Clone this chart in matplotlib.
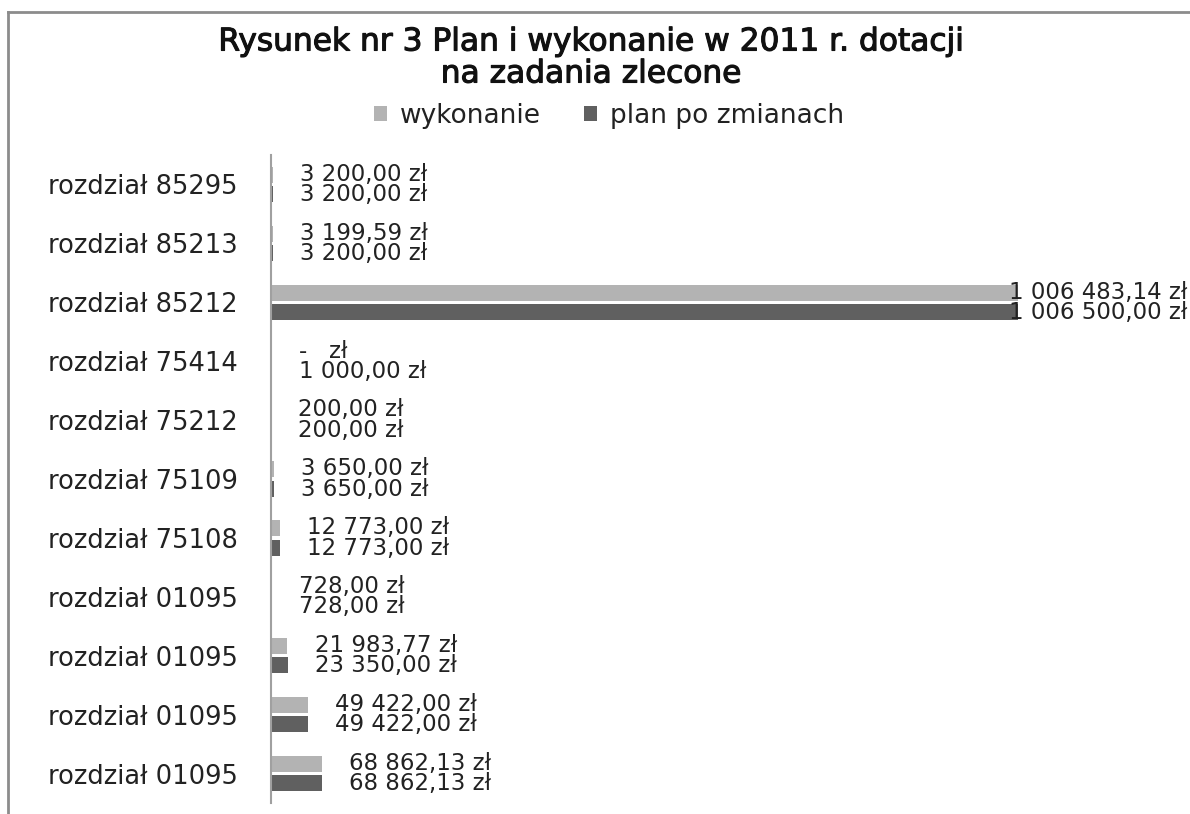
import numpy as np
import matplotlib.pyplot as plt
from matplotlib.lines import Line2D
import matplotlib.patheffects as pe

# dane z rysunku (od góry do dołu)
categories = ['rozdział 85295', 'rozdział 85213', 'rozdział 85212', 'rozdział 75414',
              'rozdział 75212', 'rozdział 75109', 'rozdział 75108', 'rozdział 01095',
              'rozdział 01095', 'rozdział 01095', 'rozdział 01095']
wykonanie = [3200.00, 3199.59, 1006483.14, 0.0, 200.00, 3650.00, 12773.00, 728.00,
             21983.77, 49422.00, 68862.13]
plan = [3200.00, 3200.00, 1006500.00, 1000.00, 200.00, 3650.00, 12773.00, 728.00,
        23350.00, 49422.00, 68862.13]
title_lines = ['Rysunek nr 3 Plan i wykonanie w 2011 r. dotacji', 'na zadania zlecone']

c_wyk = '#b3b3b3'
c_plan = '#606060'


def fmt(v):
    if v == 0:
        return '-   zł'
    s = '{:,.2f}'.format(v)
    s = s.replace(',', ' ').replace('.', ',')
    return s + ' zł'


W, H = 1190, 814
fig = plt.figure(figsize=(W / 100, H / 100), dpi=100)
plt.rcParams['font.family'] = ['DejaVu Sans']

# ramka wykresu (góra i lewa strona)
fig.add_artist(Line2D([8 / W, 1], [1 - 12 / H, 1 - 12 / H], transform=fig.transFigure,
                      color='#8c8c8c', lw=2))
fig.add_artist(Line2D([8 / W, 8 / W], [0, 1 - 12 / H], transform=fig.transFigure,
                      color='#8c8c8c', lw=2))

ax = fig.add_axes([271 / W, 1 - 803 / H, (1018 - 271) / W, (803 - 155) / H])
y = np.arange(len(categories))
off = 0.165
hb = 0.27
ax.barh(y - off, wykonanie, height=hb, color=c_wyk, label='wykonanie')
ax.barh(y + off, plan, height=hb, color=c_plan, label='plan po zmianach')

ax.set_xlim(0, max(plan))
ax.set_ylim(len(categories) - 0.5, -0.5)
ax.set_yticks(y)
ax.set_yticklabels(categories, fontsize=18.5, color='#222222')
ax.tick_params(axis='y', length=0, pad=24)
ax.set_xticks([])
for s in ['top', 'right', 'bottom']:
    ax.spines[s].set_visible(False)
ax.spines['left'].set_color('#a0a0a0')
ax.spines['left'].set_linewidth(1.5)

# etykiety danych: para wartości przy każdej kategorii
vmax = max(plan)
for i, (w, p) in enumerate(zip(wykonanie, plan)):
    txt = fmt(w) + '\n' + fmt(p)
    v = max(w, p)
    if v >= vmax * 0.9:
        ax.annotate(txt, xy=(1, i), xycoords=('figure fraction', 'data'),
                    xytext=(-3, 0), textcoords='offset pixels',
                    ha='right', va='center', multialignment='right', fontsize=16.5,
                    linespacing=0.85, color='#222222', annotation_clip=False)
    else:
        ax.annotate(txt, xy=(v, i), xytext=(27, 0),
                    textcoords='offset pixels', ha='left', va='center',
                    fontsize=16.5, linespacing=0.85, color='#222222',
                    annotation_clip=False)

for line, ty in zip(title_lines, [42, 74]):
    fig.text(591 / W, 1 - ty / H, line, ha='center', va='center', fontsize=22.5,
             color='#111111',
             path_effects=[pe.withStroke(linewidth=0.8, foreground='#111111')])

fig.legend(loc='center', bbox_to_anchor=(609 / W, 1 - 116 / H), ncol=2, frameon=False,
           fontsize=19, handlelength=0.5, handleheight=0.5, handletextpad=0.5,
           columnspacing=1.6, labelcolor='#222222')

fig.savefig('out.png', dpi=100)
